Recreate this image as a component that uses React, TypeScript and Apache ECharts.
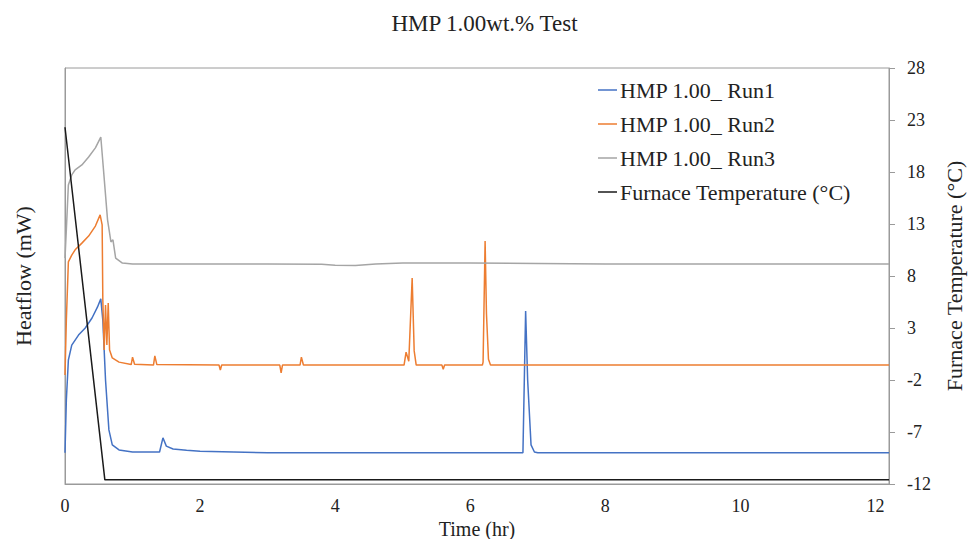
import React, { useEffect, useRef } from "react";
import * as echarts from "echarts";

const FONT = "'Liberation Serif', 'DejaVu Serif', serif";

// Time (hr), relative heatflow (arbitrary units, hidden left axis)
const run1: [number, number][] = [
  [0, 7.5], [0.02, 20.2], [0.05, 29.8], [0.1, 33.4], [0.2, 35.8], [0.3, 37.5], [0.4, 39.9], [0.48, 42.5],
  [0.53, 44.5], [0.56, 39.4], [0.6, 25], [0.65, 13], [0.7, 9.4], [0.8, 8.2], [1.0, 7.7], [1.4, 7.7],
  [1.45, 11.1], [1.5, 9.1], [1.6, 8.4], [1.8, 8.1], [2.0, 7.9], [2.5, 7.7], [3.0, 7.5], [4.0, 7.5],
  [5.0, 7.5], [6.0, 7.5], [6.78, 7.5], [6.82, 41.6], [6.85, 25], [6.9, 9.4], [6.95, 7.7], [7.0, 7.5],
  [8.0, 7.5], [9.0, 7.5], [10.0, 7.5], [11.0, 7.5], [12.2, 7.5],
];

const run2: [number, number][] = [
  [0, 26.2], [0.02, 39.4], [0.05, 53.4], [0.1, 55.0], [0.15, 56.3], [0.25, 57.9], [0.35, 59.6], [0.45, 62.0],
  [0.52, 64.7], [0.55, 62.3], [0.56, 44.2], [0.58, 32.2], [0.6, 43.0], [0.62, 33.4], [0.64, 43.5], [0.66, 32.2],
  [0.7, 30.3], [0.8, 29.3], [0.98, 28.7], [1.0, 30.5], [1.03, 28.8], [1.31, 28.6], [1.33, 30.8], [1.36, 28.7],
  [2.28, 28.6], [2.3, 27.4], [2.32, 28.6], [3.18, 28.6], [3.2, 26.7], [3.22, 28.6], [3.48, 28.6], [3.5, 30.5],
  [3.53, 28.6], [5.02, 28.6], [5.05, 31.7], [5.09, 29.5], [5.14, 49.5], [5.17, 32], [5.2, 28.6], [5.58, 28.6],
  [5.6, 27.6], [5.62, 28.6], [6.18, 28.6], [6.19, 29.3], [6.22, 58.4], [6.24, 41], [6.27, 30], [6.3, 28.6],
  [7.0, 28.6], [8.0, 28.6], [9.0, 28.6], [10.0, 28.6], [11.0, 28.6], [12.2, 28.6],
];

const run3: [number, number][] = [
  [0, 54.3], [0.02, 61.1], [0.05, 71.9], [0.1, 74.3], [0.15, 75.5], [0.25, 76.7], [0.35, 78.6], [0.45, 80.8],
  [0.53, 83.4], [0.57, 75.5], [0.63, 63.5], [0.68, 58.2], [0.71, 58.7], [0.75, 54.3], [0.85, 53.1], [1.0, 52.9],
  [2.0, 52.9], [3.0, 52.9], [3.8, 52.8], [4.0, 52.6], [4.3, 52.5], [4.6, 52.9], [5.0, 53.1], [6.0, 53.1],
  [7.0, 53.0], [8.0, 52.9], [9.0, 52.9], [10.0, 52.9], [11.0, 52.9], [12.2, 52.9],
];

const furnace: [number, number][] = [[0, 22.3], [0.59, -11.6], [12.2, -11.6]];

const seriesNames = ["HMP 1.00_ Run1", "HMP 1.00_ Run2", "HMP 1.00_ Run3", "Furnace Temperature (°C)"];
const seriesColors = ["#4472C4", "#ED7D31", "#A5A5A5", "#1a1a1a"];

export default function App() {
  const ref = useRef<HTMLDivElement>(null);
  useEffect(() => {
    if (!ref.current) return;
    const chart = echarts.init(ref.current, undefined, { renderer: "svg" });
    const axisLine = { show: true, lineStyle: { color: "#9a9a9a", width: 1 } };
    const datas = [run1, run2, run3, furnace];
    chart.setOption({
      animation: false,
      textStyle: { fontFamily: FONT },
      title: {
        text: "HMP 1.00wt.% Test",
        left: "center",
        top: 7,
        textStyle: { fontFamily: FONT, fontSize: 23, fontWeight: "normal", color: "#222" },
      },
      grid: {
        left: 65,
        right: 80,
        top: 68,
        bottom: 55,
        show: true,
        borderColor: "#9a9a9a",
        borderWidth: 1,
        outerBoundsMode: "none",
        containLabel: false,
      },
      legend: {
        orient: "vertical",
        left: 593,
        top: 74,
        icon: "rect",
        itemWidth: 19,
        itemHeight: 1.5,
        itemGap: 12,
        textStyle: { fontFamily: FONT, fontSize: 22, color: "#222", padding: [0, 0, 0, -2] },
        data: seriesNames,
      },
      xAxis: {
        type: "value",
        min: 0,
        max: 12.2,
        interval: 2,
        name: "Time (hr)",
        nameLocation: "middle",
        nameGap: 35,
        nameMoveOverlap: false,
        nameTextStyle: { fontFamily: FONT, fontSize: 20, color: "#222", lineHeight: 20 },
        axisLine,
        axisTick: { show: false },
        splitLine: { show: false },
        axisLabel: {
          margin: 13,
          fontFamily: FONT,
          fontSize: 18,
          lineHeight: 18,
          color: "#222",
          formatter: (v: number) => (Math.abs(v % 2) < 1e-9 ? String(v) : ""),
        },
      },
      yAxis: [
        {
          type: "value",
          min: 0,
          max: 100,
          name: "Heatflow (mW)",
          nameLocation: "middle",
          nameGap: 31,
          nameMoveOverlap: false,
          nameTextStyle: { fontFamily: FONT, fontSize: 22, color: "#222" },
          axisLine,
          axisTick: { show: false },
          axisLabel: { show: false },
          splitLine: { show: false },
        },
        {
          type: "value",
          position: "right",
          min: -12,
          max: 28,
          interval: 5,
          name: "Furnace Temperature (°C)",
          nameLocation: "middle",
          nameGap: 54,
          nameMoveOverlap: false,
          nameTextStyle: { fontFamily: FONT, fontSize: 22, color: "#222" },
          axisLine,
          axisTick: { show: true, length: 6, lineStyle: { color: "#9a9a9a" } },
          axisLabel: { margin: 18, fontFamily: FONT, fontSize: 18, color: "#222" },
          splitLine: { show: false },
        },
      ],
      series: datas.map((d, i) => ({
        name: seriesNames[i],
        type: "line",
        yAxisIndex: i === 3 ? 1 : 0,
        data: d,
        symbol: "none",
        lineStyle: { color: seriesColors[i], width: 1.5 },
        itemStyle: { color: seriesColors[i] },
        z: i === 3 ? 3 : 2,
      })),
    });
    return () => chart.dispose();
  }, []);
  return (
    <div
      ref={ref}
      style={{ position: "fixed", left: 0, top: 0, width: 969, height: 539, background: "#fff" }}
    />
  );
}
